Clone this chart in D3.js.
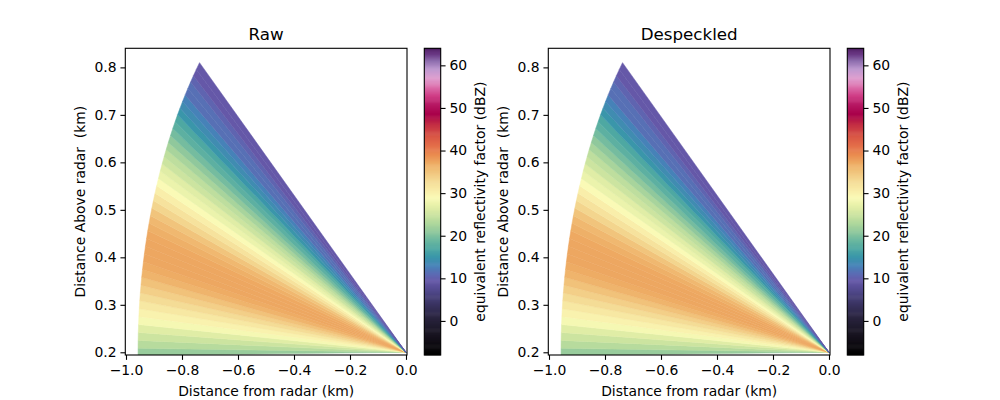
<!DOCTYPE html>
<html><head><meta charset="utf-8">
<script src="https://cdn.jsdelivr.net/npm/d3@7"></script>
<style>body{margin:0;background:#fff} svg{font-family:"DejaVu Sans",sans-serif}</style>
</head><body><svg id="c" width="1000" height="400"></svg>
<script>
// ---- data ----
const PANEL_TITLES = ["Raw", "Despeckled"];
const ELEVATIONS = [0,1,2,3,4,5,6,7,8,9,10,11,12,13,14,15,16,17,18,19,20,21,22,23,24,25,26,27,28,29,30,31,32,33,34,35,36,37,38,39];
const RAW_DBZ = [21.5,23.5,25,26.5,28.5,30,31.3,32.8,34,35.2,36.3,37,37.3,37.3,37.3,37.2,36.7,36,35,33.5,32,30.5,29,27.5,26.5,25,24,22.5,21,19.5,18,17,15,14,13,11.5,11.5,10.5,9.5,9.5];
const DESPECKLED_DBZ = [21.5,23.5,25,26.5,28.5,30,31.3,32.8,34,35.2,36.3,37,37.3,37.3,37.3,37.2,36.7,36,35,33.5,32,30.5,29,27.5,26.5,25,24,22.5,21,19.5,18,17,15,14,13,11.5,11.5,10.5,9.5,9.5];
const MAX_RANGE_KM = 0.957;
const RADAR_HEIGHT_KM = 0.2;
const X_TICKS = [-1.0,-0.8,-0.6,-0.4,-0.2,0.0];
const Y_TICKS = [0.2,0.3,0.4,0.5,0.6,0.7,0.8];
const CB_TICKS = [0,10,20,30,40,50,60];
const VMIN = -8, VMAX = 64;
const CMAP_VALUES = [-8,-5,-2,1,4,7,9.5,11,13,15,17,19,21,23,25,27,29,31,33,35,37,39,41,43.5,46,48.5,51,53,55,57,59,61,63,64];
const CMAP_COLORS = ["#000000","#100d14","#1c1828","#2a2440","#3a3462","#50488a","#6558a8","#5c6ab4","#4682b8","#3a96aa","#4ea8a2","#6cb8a0","#90c89c","#b0d89c","#cce4a0","#e6f0a8","#fafab6","#f8eaa6","#f4da94","#f1c47c","#eeac64","#ea8c50","#e4704a","#d85444","#c43044","#a80048","#b81a66","#d04088","#dc70ac","#e0a0d0","#c098d0","#9070b0","#602c7a","#4a1a5e"];

// ---- layout ----
const svg = d3.select("#c");
const FS = 13.9;
const TICK = 4.86;
const axTop = 48.3, axBot = 355, axW = 281.7;
const panelLefts = [125.3, 548.3];
const datasets = [RAW_DBZ, DESPECKLED_DBZ];
const color = d3.scaleLinear().domain(CMAP_VALUES).range(CMAP_COLORS).interpolate(d3.interpolateRgb).clamp(true);

// ray edges from centres
const edges = [];
edges.push(ELEVATIONS[0] - 0.4);
for (let i = 0; i < ELEVATIONS.length - 1; i++) edges.push((ELEVATIONS[i] + ELEVATIONS[i+1]) / 2);
edges.push(ELEVATIONS[ELEVATIONS.length-1] + 0.6);

panelLefts.forEach((L, p) => {
  const x = d3.scaleLinear().domain([-1.0025, 0.0036]).range([L, L + axW]);
  const y = d3.scaleLinear().domain([0.1943, 0.8402]).range([axBot, axTop]);
  const clipId = "clip" + p;
  svg.append("clipPath").attr("id", clipId).append("rect")
    .attr("x", L).attr("y", axTop).attr("width", axW).attr("height", axBot - axTop);
  const g = svg.append("g").attr("clip-path", `url(#${clipId})`);
  const vals = datasets[p];
  const rad = Math.PI / 180;
  g.selectAll("polygon").data(ELEVATIONS).join("polygon")
    .attr("points", (d, i) => {
      const a1 = edges[i] * rad, a2 = edges[i+1] * rad;
      const pts = [[0, RADAR_HEIGHT_KM],
        [-MAX_RANGE_KM * Math.cos(a1), RADAR_HEIGHT_KM + MAX_RANGE_KM * Math.sin(a1)],
        [-MAX_RANGE_KM * Math.cos(a2), RADAR_HEIGHT_KM + MAX_RANGE_KM * Math.sin(a2)]];
      return pts.map(q => x(q[0]) + "," + y(q[1])).join(" ");
    })
    .attr("fill", (d, i) => color(vals[i]))
    .attr("stroke", (d, i) => color(vals[i]))
    .attr("stroke-width", 0.5)
    .attr("stroke-linejoin", "miter");

  // axes
  const xa = svg.append("g").attr("transform", `translate(0,${axBot})`)
    .call(d3.axisBottom(x).tickValues(X_TICKS).tickFormat(d3.format(".1f")).tickSize(TICK).tickPadding(TICK - 1));
  const ya = svg.append("g").attr("transform", `translate(${L},0)`)
    .call(d3.axisLeft(y).tickValues(Y_TICKS).tickFormat(d3.format(".1f")).tickSize(TICK).tickPadding(TICK - 1));
  [xa, ya].forEach(a => {
    a.select(".domain").remove();
    a.selectAll(".tick line").attr("stroke", "#000").attr("stroke-width", 1.1);
    a.selectAll(".tick text").attr("font-size", FS).attr("fill", "#000").attr("font-family", "DejaVu Sans");
  });
  xa.selectAll(".tick text").attr("dy", "0.78em");
  svg.append("rect").attr("x", L).attr("y", axTop).attr("width", axW).attr("height", axBot - axTop)
    .attr("fill", "none").attr("stroke", "#000").attr("stroke-width", 1.1);

  svg.append("text").attr("x", L + axW / 2).attr("y", 39.5).attr("text-anchor", "middle")
    .attr("font-size", 16.7).text(PANEL_TITLES[p]);
  svg.append("text").attr("x", L + axW / 2).attr("y", 395.5).attr("text-anchor", "middle")
    .attr("font-size", FS).text("Distance from radar (km)");
  svg.append("text").attr("transform", `translate(${L - 45},${(axTop + axBot) / 2}) rotate(-90)`)
    .attr("text-anchor", "middle").attr("dy", "0.35em").attr("font-size", FS).text("Distance Above radar\u00a0 (km)");

  // colorbar
  const cbL = L + 299, cbW = 16.4;
  const cy = d3.scaleLinear().domain([VMIN, VMAX]).range([axBot, axTop]);
  const step = 0.25;
  svg.append("g").selectAll("rect").data(d3.range(VMIN, VMAX, step)).join("rect")
    .attr("x", cbL).attr("width", cbW)
    .attr("y", d => cy(d + step) - 0.3).attr("height", d => cy(d) - cy(d + step) + 0.6)
    .attr("fill", d => color(d + step / 2));
  svg.append("rect").attr("x", cbL).attr("y", axTop).attr("width", cbW).attr("height", axBot - axTop)
    .attr("fill", "none").attr("stroke", "#000").attr("stroke-width", 1.1);
  const ca = svg.append("g").attr("transform", `translate(${cbL + cbW},0)`)
    .call(d3.axisRight(cy).tickValues(CB_TICKS).tickFormat(d3.format("d")).tickSize(TICK).tickPadding(TICK - 1));
  ca.select(".domain").remove();
  ca.selectAll(".tick line").attr("stroke", "#000").attr("stroke-width", 1.1);
  ca.selectAll(".tick text").attr("font-size", FS).attr("fill", "#000").attr("font-family", "DejaVu Sans");
  svg.append("text").attr("transform", `translate(${cbL + 56},${(axTop + axBot) / 2}) rotate(-90)`)
    .attr("text-anchor", "middle").attr("dy", "0.35em").attr("font-size", FS).text("equivalent reflectivity factor (dBZ)");
});
</script></body></html>
